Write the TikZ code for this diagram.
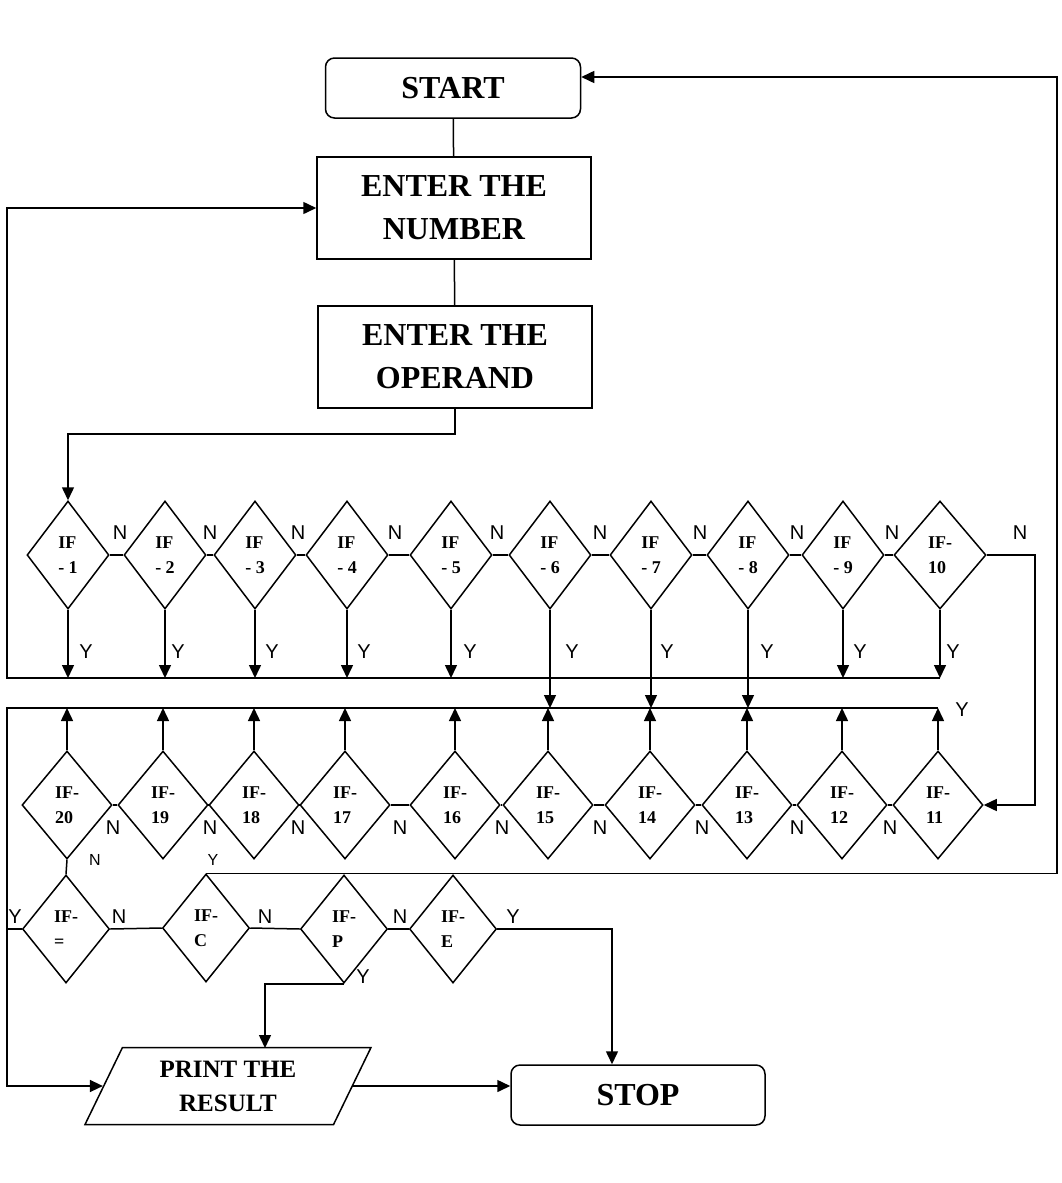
\documentclass[tikz,border=0pt]{standalone}
\usepackage{fontspec}
\setmainfont{Liberation Serif}
\newfontfamily\labfont{Liberation Sans}
\usetikzlibrary{shapes.geometric,arrows.meta,calc}

\tikzset{
  flow/.style={line width=1.5pt},
  arr/.style={flow, -{Triangle[length=13pt,width=12pt]}},
  termbox/.style={draw, line width=1.5pt, rounded corners=9pt, minimum width=255pt, minimum height=60pt, font=\bfseries\fontsize{32}{38}\selectfont},
  procbox/.style={draw, line width=1.5pt, minimum width=274pt, minimum height=102pt, align=center, font=\bfseries\fontsize{32}{43}\selectfont},
  iobox/.style={draw, line width=1.5pt, trapezium, trapezium left angle=53.5, trapezium right angle=126.5, trapezium stretches body, minimum width=286pt, minimum height=77pt, inner sep=0pt, align=center, font=\bfseries\fontsize{25}{34}\selectfont},
  ifbox/.style={draw, line width=1.5pt, diamond, inner sep=0pt, minimum width=82pt, minimum height=108pt, align=left, font=\bfseries\fontsize{18}{25}\selectfont},
  ifwide/.style={ifbox, minimum width=90pt},
  ifrowc/.style={ifbox, minimum width=87pt},
  yn/.style={inner sep=0pt, font=\labfont\fontsize{20}{20}\selectfont},
  ynsmall/.style={inner sep=0pt, font=\labfont\fontsize{16}{16}\selectfont},
}

\begin{document}
\begin{tikzpicture}[x=1pt,y=1pt,yscale=-1]
\useasboundingbox (0,0) rectangle (1062,1183);

% Boxes
\node[termbox] (start) at (453,88) {START};
\node[procbox] (num) at (454,208) {ENTER THE\\NUMBER};
\node[procbox] (opd) at (455,357) {ENTER THE\\OPERAND};
\node[iobox] (print) at (228,1086) {PRINT THE\\RESULT};
\node[termbox, minimum width=254pt] (stop) at (638,1095) {STOP};

% Decisions, first row
\node[ifbox] (d1) at (68,555) {IF\\- 1};
\node[ifbox] (d2) at (165,555) {IF\\- 2};
\node[ifbox] (d3) at (255,555) {IF\\- 3};
\node[ifbox] (d4) at (347,555) {IF\\- 4};
\node[ifbox] (d5) at (451,555) {IF\\- 5};
\node[ifbox] (d6) at (550,555) {IF\\- 6};
\node[ifbox] (d7) at (651,555) {IF\\- 7};
\node[ifbox] (d8) at (748,555) {IF\\- 8};
\node[ifbox] (d9) at (843,555) {IF\\- 9};
\node[ifbox, minimum width=92pt] (d10) at (940,555) {IF-\\10};

% Decisions, second row
\node[ifwide] (d11) at (938,805) {IF-\\11};
\node[ifwide] (d12) at (842,805) {IF-\\12};
\node[ifwide] (d13) at (747,805) {IF-\\13};
\node[ifwide] (d14) at (650,805) {IF-\\14};
\node[ifwide] (d15) at (548,805) {IF-\\15};
\node[ifwide] (d16) at (455,805) {IF-\\16};
\node[ifwide] (d17) at (345,805) {IF-\\17};
\node[ifwide] (d18) at (254,805) {IF-\\18};
\node[ifwide] (d19) at (163,805) {IF-\\19};
\node[ifwide] (d20) at (67,805) {IF-\\20};

% Decisions, third row
\node[ifrowc] (deq) at (66,929) {IF-\\=};
\node[ifrowc] (dc) at (206,928) {IF-\\C};
\node[ifrowc] (dp) at (344,929) {IF-\\P};
\node[ifrowc] (de) at (453,929) {IF-\\E};

% Bends
\coordinate (busA) at (7,678);
\coordinate (busB) at (7,708);
\coordinate (rA) at (1035,555);
\coordinate (rC) at (1057,77);
\coordinate (rE) at (612,929);
\coordinate (pL) at (265,1048);

% Straight Lines
\draw[flow] (start) -- (num);
\draw[flow] (num) -- (opd);
\draw[arr] (opd.south) -- ++(0,25) -| (d1.north);

\draw[flow] (d1.east) -- (d2.west);
\draw[flow] (d2.east) -- (d3.west);
\draw[flow] (d3.east) -- (d4.west);
\draw[flow] (d4.east) -- (d5.west);
\draw[flow] (d5.east) -- (d6.west);
\draw[flow] (d6.east) -- (d7.west);
\draw[flow] (d7.east) -- (d8.west);
\draw[flow] (d8.east) -- (d9.west);
\draw[flow] (d9.east) -- (d10.west);
\draw[arr] (d10.east) -- (rA) |- (d11.east);

\draw[arr] (d1.south) -- (d1.south |- busA);
\draw[arr] (d2.south) -- (d2.south |- busA);
\draw[arr] (d3.south) -- (d3.south |- busA);
\draw[arr] (d4.south) -- (d4.south |- busA);
\draw[arr] (d5.south) -- (d5.south |- busA);
\draw[arr] (d6.south) -- (d6.south |- busB);
\draw[arr] (d7.south) -- (d7.south |- busB);
\draw[arr] (d8.south) -- (d8.south |- busB);
\draw[arr] (d9.south) -- (d9.south |- busA);
\draw[arr] (d10.south) -- (d10.south |- busA);
\draw[arr] (d10.south |- busA) -- (busA) |- (num.west);

\draw[flow] (d11.west) -- (d12.east);
\draw[flow] (d12.west) -- (d13.east);
\draw[flow] (d13.west) -- (d14.east);
\draw[flow] (d14.west) -- (d15.east);
\draw[flow] (d15.west) -- (d16.east);
\draw[flow] (d16.west) -- (d17.east);
\draw[flow] (d17.west) -- (d18.east);
\draw[flow] (d18.west) -- (d19.east);
\draw[flow] (d19.west) -- (d20.east);
\draw[flow] (d20.south) -- (deq.north);

\draw[arr] (d11.north) -- (d11.north |- busB);
\draw[arr] (d12.north) -- (d12.north |- busB);
\draw[arr] (d13.north) -- (d13.north |- busB);
\draw[arr] (d14.north) -- (d14.north |- busB);
\draw[arr] (d15.north) -- (d15.north |- busB);
\draw[arr] (d16.north) -- (d16.north |- busB);
\draw[arr] (d17.north) -- (d17.north |- busB);
\draw[arr] (d18.north) -- (d18.north |- busB);
\draw[arr] (d19.north) -- (d19.north |- busB);
\draw[arr] (d20.north) -- (d20.north |- busB);
\draw[arr] (d11.north |- busB) -- (busB) |- (print.west);

\draw[flow] (deq.west) -- (deq.west -| busB);
\draw[flow] (deq.east) -- (dc.west);
\draw[flow] (dc.east) -- (dp.west);
\draw[flow] (dp.east) -- (de.west);
\draw[arr] (dc.north) -| (rC) -- ($(start.east)+(0,-11)$);
\draw[arr] (dp.south) -| (pL);
\draw[arr] (de.east) -- (rE) -- (rE |- stop.north);
\draw[arr] (print.east) -- (print.east -| stop.west);

% Text Nodes
\node[yn] (nA1) at (120,533) {N};
\node[yn] (nA2) at (210,533) {N};
\node[yn] (nA3) at (298,533) {N};
\node[yn] (nA4) at (395,533) {N};
\node[yn] (nA5) at (497,533) {N};
\node[yn] (nA6) at (600,533) {N};
\node[yn] (nA7) at (700,533) {N};
\node[yn] (nA8) at (797,533) {N};
\node[yn] (nA9) at (892,533) {N};
\node[yn] (nA10) at (1020,533) {N};

\node[yn] (yA1) at (86,652) {Y};
\node[yn] (yA2) at (178,652) {Y};
\node[yn] (yA3) at (272,652) {Y};
\node[yn] (yA4) at (364,652) {Y};
\node[yn] (yA5) at (470,652) {Y};
\node[yn] (yA6) at (572,652) {Y};
\node[yn] (yA7) at (667,652) {Y};
\node[yn] (yA8) at (767,652) {Y};
\node[yn] (yA9) at (860,652) {Y};
\node[yn] (yA10) at (953,652) {Y};
\node[yn] (yB11) at (962,710) {Y};

\node[yn] (nB11) at (890,828) {N};
\node[yn] (nB12) at (797,828) {N};
\node[yn] (nB13) at (702,828) {N};
\node[yn] (nB14) at (600,828) {N};
\node[yn] (nB15) at (502,828) {N};
\node[yn] (nB16) at (400,828) {N};
\node[yn] (nB17) at (298,828) {N};
\node[yn] (nB18) at (210,828) {N};
\node[yn] (nB19) at (113,828) {N};
\node[ynsmall] (nB20) at (95,860) {N};

\node[yn] (yEq) at (15,917) {Y};
\node[yn] (nEq) at (119,917) {N};
\node[ynsmall] (yC) at (213,860) {Y};
\node[yn] (nC) at (265,917) {N};
\node[yn] (nP) at (400,917) {N};
\node[yn] (yP) at (363,977) {Y};
\node[yn] (yE) at (513,917) {Y};

\end{tikzpicture}
\end{document}
